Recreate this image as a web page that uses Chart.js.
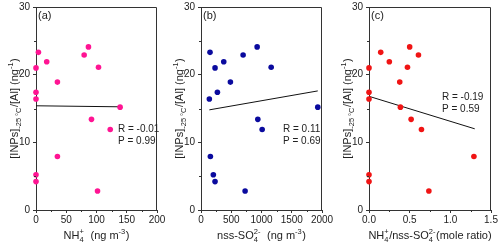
<!DOCTYPE html>
<html>
<head>
<meta charset="utf-8">
<script src="https://cdn.jsdelivr.net/npm/chart.js@4.4.0/dist/chart.umd.min.js"></script>
<style>
  html, body { margin: 0; padding: 0; background: #fff; }
  #wrap { position: relative; width: 500px; height: 250px; overflow: hidden; }
  canvas { position: absolute; top: 0; }
</style>
</head>
<body>
<div id="wrap">
  <canvas id="pa" width="165" height="250" style="left:0"></canvas>
  <canvas id="pb" width="172" height="250" style="left:165px"></canvas>
  <canvas id="pc" width="170" height="250" style="left:330px"></canvas>
</div>
<script>
/* ------------------------------------------------------------------ */
/*  Data                                         */
/* ------------------------------------------------------------------ */

// [INPs]-25C/[Al], same samples in every panel
var inpAl   = [24.1, 23.3, 22.9, 21.9, 21.1, 21.0, 18.9, 17.4, 16.4, 15.2, 13.4, 11.9, 7.9, 5.2, 4.2, 2.8];
var nh4     = [86.7, 4, 79.6, 17.7, 103.3, 0, 35.4, 0, 0, 139, 91.7, 122.7, 35.4, 0, 0, 101.7];
var nssSo4  = [928, 149, 696, 376, 1160, 232, 486, 271, 138, 1930, 939, 1011, 155, 204, 232, 729];
var ratio   = [0.50, 0.144, 0.608, 0.25, 0.473, 0, 0.378, 0, 0, 0.386, 0.518, 0.645, 1.29, 0, 0, 0.736];

// regression line end points
var fitAx = [0, 139],  fitAy = [15.4, 15.25];
var fitBx = [138, 1930], fitBy = [14.8, 17.6];
var fitCx = [0, 1.3],  fitCy = [16.8, 12.0];

var statsA = ["R = -0.01", "P = 0.99"];
var statsB = ["R = 0.11", "P = 0.69"];
var statsC = ["R = -0.19", "P = 0.59"];

/* ------------------------------------------------------------------ */
/*  Helpers                                                            */
/* ------------------------------------------------------------------ */

var FONT = "'Liberation Sans', Arial, sans-serif";
var INK = "#222";
var AXIS = "#333";

function pairs(xs, ys) {
  return xs.map(function (x, i) { return { x: x, y: ys[i] }; });
}

// segments: {t} plain, {sub, sup} stacked scripts
function richWidth(ctx, segs, size) {
  var w = 0;
  segs.forEach(function (s) {
    if (s.t !== undefined) {
      ctx.font = size + "px " + FONT;
      w += ctx.measureText(s.t).width;
    } else {
      ctx.font = (size * 0.68) + "px " + FONT;
      var a = s.sub ? ctx.measureText(s.sub).width : 0;
      var b = s.sup ? ctx.measureText(s.sup).width : 0;
      w += Math.max(a, b) + 0.5;
    }
  });
  return w;
}

function drawRich(ctx, segs, cx, cy, size) {
  var x = cx - richWidth(ctx, segs, size) / 2;
  ctx.textBaseline = "middle";
  ctx.textAlign = "left";
  ctx.fillStyle = INK;
  segs.forEach(function (s) {
    if (s.t !== undefined) {
      ctx.font = size + "px " + FONT;
      ctx.fillText(s.t, x, cy);
      x += ctx.measureText(s.t).width;
    } else {
      ctx.font = (size * 0.68) + "px " + FONT;
      var a = 0, b = 0;
      if (s.sub) { ctx.fillText(s.sub, x, cy + size * 0.32); a = ctx.measureText(s.sub).width; }
      if (s.sup) { ctx.fillText(s.sup, x, cy - size * 0.38); b = ctx.measureText(s.sup).width; }
      x += Math.max(a, b) + 0.5;
    }
  });
}

var yTitle = [{ t: "[INPs]" }, { sub: "-25 \u00B0C" }, { t: "/[Al] (ng" }, { sup: "-1" }, { t: ")" }];

var decor = {
  id: "decor",
  afterDraw: function (chart) {
    var ctx = chart.ctx, a = chart.chartArea, o = chart.options.plugins.decor;
    var xs = chart.scales.x, ys = chart.scales.y;
    ctx.save();
    // top and right frame
    ctx.strokeStyle = AXIS;
    ctx.lineWidth = 1;
    ctx.beginPath();
    ctx.moveTo(Math.round(a.left) + 0.5, Math.round(a.top) + 0.5);
    ctx.lineTo(Math.round(a.right) - 0.5, Math.round(a.top) + 0.5);
    ctx.lineTo(Math.round(a.right) - 0.5, Math.round(a.bottom));
    ctx.stroke();
    // minor ticks
    ctx.beginPath();
    for (var i = 0; i < xs.ticks.length - 1; i++) {
      var px = Math.round(xs.getPixelForValue((xs.ticks[i].value + xs.ticks[i + 1].value) / 2)) + 0.5;
      ctx.moveTo(px, a.bottom); ctx.lineTo(px, a.bottom + 2);
    }
    for (var j = 0; j < ys.ticks.length - 1; j++) {
      var py = Math.round(ys.getPixelForValue((ys.ticks[j].value + ys.ticks[j + 1].value) / 2)) + 0.5;
      ctx.moveTo(a.left, py); ctx.lineTo(a.left - 2, py);
    }
    ctx.stroke();
    // panel letter
    ctx.fillStyle = INK;
    ctx.font = "11px " + FONT;
    ctx.textAlign = "left";
    ctx.textBaseline = "middle";
    ctx.fillText(o.letter, a.left + 2, a.top + 9);
    // R / P
    ctx.font = "10px " + FONT;
    ctx.fillText(o.stats[0], o.statsX, o.statsY);
    ctx.fillText(o.stats[1], o.statsX, o.statsY + 12);
    // axis titles
    drawRich(ctx, o.xTitle, (a.left + a.right) / 2, 236, 11);
    ctx.translate(o.yTitleX, (a.top + a.bottom) / 2);
    ctx.rotate(-Math.PI / 2);
    drawRich(ctx, yTitle, 0, 0, 11);
    ctx.restore();
  }
};

function makePanel(id, xs, fitX, fitY, color, xMin, xMax, xStep, dec, left, right, opts) {
  var tickFont = { family: FONT, size: 10 };
  new Chart(document.getElementById(id), {
    type: "scatter",
    data: {
      datasets: [
        { data: pairs(xs, inpAl), backgroundColor: color, borderWidth: 0, pointRadius: 2.8, pointHoverRadius: 2.8, clip: false },
        { type: "line", data: pairs(fitX, fitY), borderColor: "#111", borderWidth: 1, pointRadius: 0, fill: false, clip: false }
      ]
    },
    options: {
      responsive: false,
      animation: false,
      events: [],
      layout: { padding: { top: 7, right: right, bottom: 0, left: 0 } },
      plugins: {
        legend: { display: false },
        tooltip: { enabled: false },
        decor: opts
      },
      scales: {
        x: {
          type: "linear", min: xMin, max: xMax,
          ticks: {
            stepSize: xStep, color: INK, font: tickFont, padding: 1, maxRotation: 0,
            callback: function (v) { return v.toFixed(dec); }
          },
          grid: { drawOnChartArea: false, tickLength: 3, color: AXIS },
          border: { color: AXIS },
          afterFit: function (s) { s.height = 40; s.paddingLeft = 0; s.paddingRight = 0; }
        },
        y: {
          min: 0, max: 30,
          ticks: { stepSize: 10, color: INK, font: tickFont, padding: 3 },
          grid: { drawOnChartArea: false, tickLength: 3, color: AXIS },
          border: { color: AXIS },
          afterFit: function (s) { s.width = left; s.paddingTop = 0; s.paddingBottom = 0; }
        }
      }
    },
    plugins: [decor]
  });
}

/* ------------------------------------------------------------------ */
/*  Panels                                                             */
/* ------------------------------------------------------------------ */

makePanel("pa", nh4, fitAx, fitAy, "#FF1493", 0, 200, 50, 0, 36, 8, {
  letter: "(a)", stats: statsA, statsX: 118, statsY: 129, yTitleX: 15,
  xTitle: [{ t: "NH" }, { sub: "4", sup: "+" }, { t: "  (ng m" }, { sup: "-3" }, { t: ")" }]
});

makePanel("pb", nssSo4, fitBx, fitBy, "#0A0A9E", 0, 2000, 500, 0, 36, 15, {
  letter: "(b)", stats: statsB, statsX: 118, statsY: 129, yTitleX: 15,
  xTitle: [{ t: "nss-SO" }, { sub: "4", sup: "2-" }, { t: "  (ng m" }, { sup: "-3" }, { t: ")" }]
});

makePanel("pc", ratio, fitCx, fitCy, "#F01414", 0, 1.5, 0.5, 1, 39, 9, {
  letter: "(c)", stats: statsC, statsX: 112, statsY: 97, yTitleX: 18,
  xTitle: [{ t: "NH" }, { sub: "4", sup: "+" }, { t: "/nss-SO" }, { sub: "4", sup: "2-" }, { t: "(mole ratio)" }]
});
</script>
</body>
</html>
